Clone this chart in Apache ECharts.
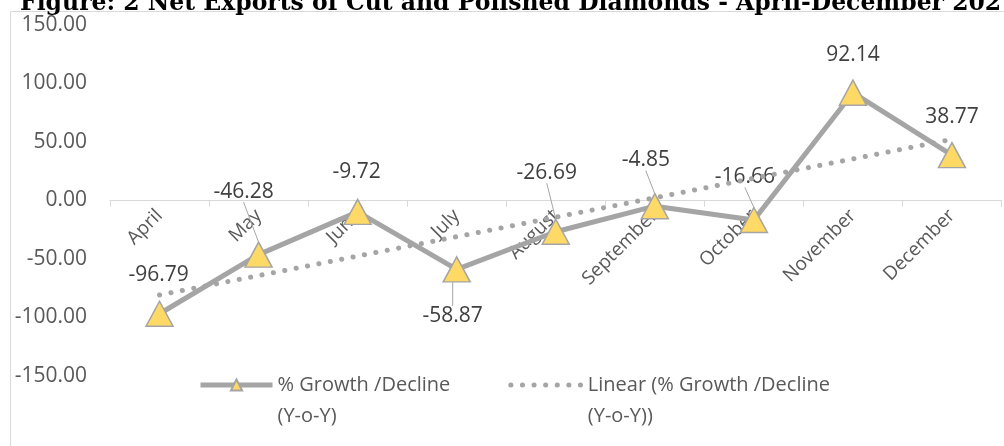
<!DOCTYPE html>
<html>
<head>
<meta charset="utf-8">
<script src="https://cdn.jsdelivr.net/npm/echarts@6/dist/echarts.min.js"></script>
<style>
  html, body { margin: 0; padding: 0; background: #fff; }
  #chart { width: 1004px; height: 446px; }
</style>
</head>
<body>
<div id="chart"></div>
<script>
// data
var months = ['April', 'May', 'June', 'July', 'August', 'September', 'October', 'November', 'December'];
var growth = [-96.79, -46.28, -9.72, -58.87, -26.69, -4.85, -16.66, 92.14, 38.77];
// linear trendline, start and end values (April, December)
var trendEnds = [-80.8, 52.2];
var yTicks = [-150, -100, -50, 0, 50, 100, 150];

// where each data label sits relative to its point (Excel moved them by hand)
var labelShift = [[-1, -39], [-15, -63], [-1, -40], [-4, 47], [-9, -59], [-9, -46], [-9, -43], [0, -38], [0, -38]];
var withLeader = [1, 3, 4, 5, 6];

var grey = '#A5A5A5';
var textGrey = '#595959';
var font = '"Open Sans", sans-serif';

var trendData = months.map(function (m, i) {
  if (i === 0) return trendEnds[0];
  if (i === months.length - 1) return trendEnds[1];
  return null;
});

var growthData = growth.map(function (v, i) {
  return {
    value: v,
    labelLine: { show: withLeader.indexOf(i) >= 0 }
  };
});

document.addEventListener('DOMContentLoaded', function () {
  var chart = echarts.init(document.getElementById('chart'));
  var option = {
    animation: false,
    title: {
      text: 'Figure: 2 Net Exports of Cut and Polished Diamonds - April-December 2021',
      left: 15,
      top: -13,
      textStyle: { fontFamily: '"DejaVu Serif", serif', fontWeight: 'bold', fontSize: 23.5, color: '#000' }
    },
    graphic: [{
      type: 'rect',
      z: -1,
      shape: { x: 10.5, y: 11.5, width: 1000, height: 440 },
      style: { fill: 'none', stroke: '#D9D9D9', lineWidth: 1 }
    }],
    // grid 0 holds the data, grid 1 is the upper half so its bottom axis sits on zero
    grid: [
      { left: 110, right: 2.5, top: 25, bottom: 70, outerBoundsMode: 'none' },
      { left: 110, right: 2.5, top: 25, bottom: 245.3, outerBoundsMode: 'none' }
    ],
    legend: {
      left: 198,
      top: 338.5,
      padding: 0,
      itemWidth: 72,
      itemHeight: 14,
      itemGap: 58,
      data: [
        { name: '% Growth /Decline (Y-o-Y)', lineStyle: { width: 5 } },
        {
          name: 'Linear (% Growth /Decline (Y-o-Y))',
          itemStyle: { opacity: 0 },
          lineStyle: { width: 5, type: [0.1, 11.5], cap: 'round' }
        }
      ],
      formatter: function (name) {
        return '\n' + name.replace(' (Y-o-Y)', '\n(Y-o-Y)');
      },
      textStyle: { fontFamily: font, fontSize: 20, color: textGrey, lineHeight: 31 }
    },
    xAxis: [{
      type: 'category',
      gridIndex: 0,
      data: months,
      show: false
    }, {
      type: 'category',
      gridIndex: 1,
      data: months,
      axisLine: { lineStyle: { color: '#D9D9D9', width: 1 } },
      axisTick: { show: true, length: 6, lineStyle: { color: '#D9D9D9' } },
      axisLabel: { rotate: 45, margin: 12, fontFamily: font, fontSize: 19, color: textGrey },
      splitLine: { show: false }
    }],
    yAxis: [{
      type: 'value',
      gridIndex: 0,
      min: yTicks[0],
      max: yTicks[yTicks.length - 1],
      interval: 50,
      axisLine: { show: false },
      axisTick: { show: false },
      splitLine: { show: false },
      axisLabel: {
        margin: 23,
        fontFamily: font,
        fontSize: 21,
        color: textGrey,
        formatter: function (v) { return v.toFixed(2); }
      }
    }, {
      type: 'value',
      gridIndex: 1,
      min: 0,
      max: 150,
      show: false
    }],
    series: [{
      name: '% Growth /Decline (Y-o-Y)',
      type: 'line',
      data: growthData,
      symbol: 'triangle',
      symbolSize: [27, 25],
      lineStyle: { color: grey, width: 5 },
      itemStyle: { color: '#FFD966', borderColor: grey, borderWidth: 1.5 },
      label: {
        show: true,
        position: 'inside',
        fontFamily: font,
        fontSize: 21,
        color: '#404040',
        formatter: function (p) { return p.value.toFixed(2); }
      },
      labelLine: { show: false, lineStyle: { color: grey, width: 1 } },
      labelLayout: function (p) {
        var s = labelShift[p.dataIndex];
        return { dx: s[0], dy: s[1] };
      },
      z: 3
    }, {
      name: 'Linear (% Growth /Decline (Y-o-Y))',
      type: 'line',
      data: trendData,
      connectNulls: true,
      showSymbol: false,
      symbol: 'none',
      lineStyle: { color: grey, width: 5, type: [0.1, 11.5], cap: 'round' },
      itemStyle: { color: grey },
      z: 4
    }]
  };
  chart.setOption(option);
});
</script>
</body>
</html>
